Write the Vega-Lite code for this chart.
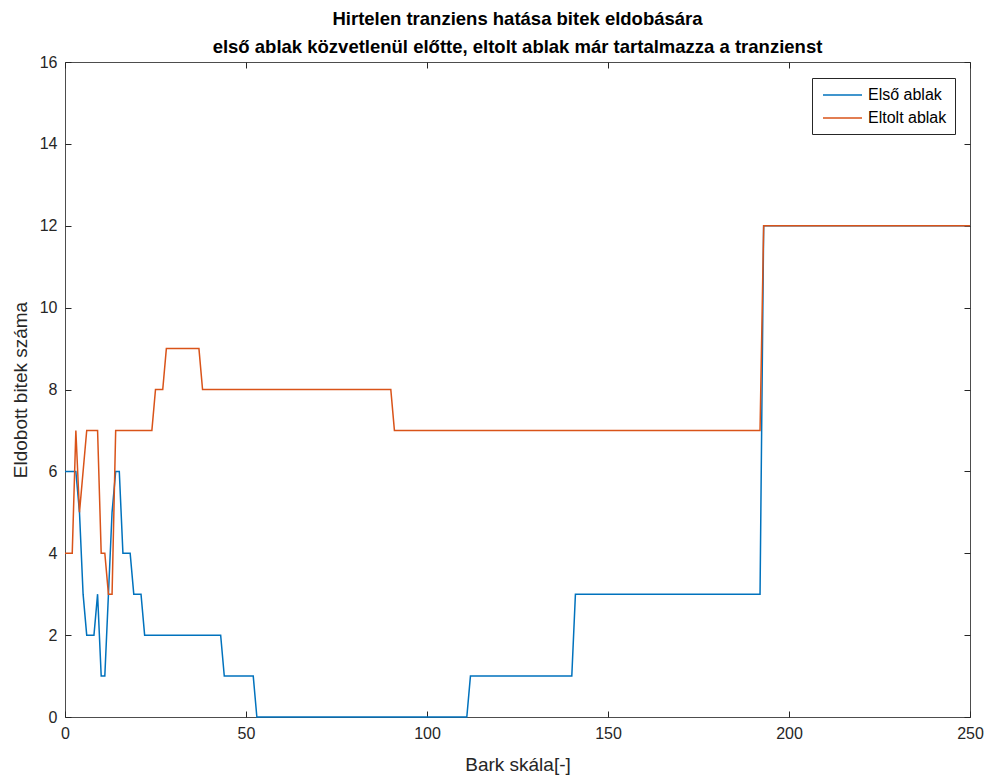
{
  "$schema": "https://vega.github.io/schema/vega-lite/v6.json",
  "width": 905,
  "height": 655,
  "autosize": {"type": "none"},
  "padding": {"left": 65, "top": 62, "right": 21, "bottom": 63},
  "background": "white",
  "title": {
    "text": ["Hirtelen tranziens hatása bitek eldobására", "első ablak közvetlenül előtte, eltolt ablak már tartalmazza a tranzienst"],
    "font": "Liberation Sans",
    "fontSize": 18.5,
    "fontWeight": "bold",
    "color": "#000000",
    "lineHeight": 28,
    "offset": -2,
    "anchor": "middle"
  },
  "config": {
    "view": {"stroke": "#4d4d4d", "strokeWidth": 1},
    "axis": {
      "grid": false,
      "domainColor": "#4d4d4d",
      "tickColor": "#262626",
      "labelColor": "#262626",
      "titleColor": "#262626",
      "labelFont": "Liberation Sans",
      "titleFont": "Liberation Sans",
      "labelFontSize": 16,
      "titleFontSize": 19,
      "titleFontWeight": "normal",
      "labelFlush": false
    }
  },
  "data": {
    "values": [
      {"x": 0, "v": 6, "s": "Első ablak"},
      {"x": 3, "v": 6, "s": "Első ablak"},
      {"x": 4, "v": 5, "s": "Első ablak"},
      {"x": 5, "v": 3, "s": "Első ablak"},
      {"x": 6, "v": 2, "s": "Első ablak"},
      {"x": 8, "v": 2, "s": "Első ablak"},
      {"x": 9, "v": 3, "s": "Első ablak"},
      {"x": 10, "v": 1, "s": "Első ablak"},
      {"x": 11, "v": 1, "s": "Első ablak"},
      {"x": 12, "v": 3, "s": "Első ablak"},
      {"x": 13, "v": 5, "s": "Első ablak"},
      {"x": 14, "v": 6, "s": "Első ablak"},
      {"x": 15, "v": 6, "s": "Első ablak"},
      {"x": 16, "v": 4, "s": "Első ablak"},
      {"x": 18, "v": 4, "s": "Első ablak"},
      {"x": 19, "v": 3, "s": "Első ablak"},
      {"x": 21, "v": 3, "s": "Első ablak"},
      {"x": 22, "v": 2, "s": "Első ablak"},
      {"x": 43, "v": 2, "s": "Első ablak"},
      {"x": 44, "v": 1, "s": "Első ablak"},
      {"x": 52, "v": 1, "s": "Első ablak"},
      {"x": 53, "v": 0, "s": "Első ablak"},
      {"x": 111, "v": 0, "s": "Első ablak"},
      {"x": 112, "v": 1, "s": "Első ablak"},
      {"x": 140, "v": 1, "s": "Első ablak"},
      {"x": 141, "v": 3, "s": "Első ablak"},
      {"x": 192, "v": 3, "s": "Első ablak"},
      {"x": 193, "v": 12, "s": "Első ablak"},
      {"x": 250, "v": 12, "s": "Első ablak"},
      {"x": 0, "v": 4, "s": "Eltolt ablak"},
      {"x": 2, "v": 4, "s": "Eltolt ablak"},
      {"x": 3, "v": 7, "s": "Eltolt ablak"},
      {"x": 4, "v": 5, "s": "Eltolt ablak"},
      {"x": 6, "v": 7, "s": "Eltolt ablak"},
      {"x": 9, "v": 7, "s": "Eltolt ablak"},
      {"x": 10, "v": 4, "s": "Eltolt ablak"},
      {"x": 11, "v": 4, "s": "Eltolt ablak"},
      {"x": 12, "v": 3, "s": "Eltolt ablak"},
      {"x": 13, "v": 3, "s": "Eltolt ablak"},
      {"x": 14, "v": 7, "s": "Eltolt ablak"},
      {"x": 24, "v": 7, "s": "Eltolt ablak"},
      {"x": 25, "v": 8, "s": "Eltolt ablak"},
      {"x": 27, "v": 8, "s": "Eltolt ablak"},
      {"x": 28, "v": 9, "s": "Eltolt ablak"},
      {"x": 37, "v": 9, "s": "Eltolt ablak"},
      {"x": 38, "v": 8, "s": "Eltolt ablak"},
      {"x": 90, "v": 8, "s": "Eltolt ablak"},
      {"x": 91, "v": 7, "s": "Eltolt ablak"},
      {"x": 192, "v": 7, "s": "Eltolt ablak"},
      {"x": 193, "v": 12, "s": "Eltolt ablak"},
      {"x": 250, "v": 12, "s": "Eltolt ablak"}
    ]
  },
  "layer": [
    {
      "mark": {"type": "line", "strokeWidth": 1.5},
      "encoding": {
        "x": {
          "field": "x", "type": "quantitative",
          "scale": {"domain": [0, 250], "nice": false, "zero": false},
          "axis": {"orient": "bottom", "values": [0, 50, 100, 150, 200, 250], "tickSize": -6, "labelPadding": 14, "title": "Bark skála[-]", "titlePadding": 14, "domain": false}
        },
        "y": {
          "field": "v", "type": "quantitative",
          "scale": {"domain": [0, 16], "nice": false},
          "axis": {"orient": "left", "values": [0, 2, 4, 6, 8, 10, 12, 14, 16], "tickSize": -6, "labelPadding": 14, "title": "Eldobott bitek száma", "titlePadding": 9, "domain": false}
        },
        "color": {
          "field": "s", "type": "nominal",
          "scale": {"domain": ["Első ablak", "Eltolt ablak"], "range": ["#0072BD", "#D95319"]},
          "legend": {
            "title": null,
            "orient": "none",
            "legendX": 747,
            "legendY": 16,
            "direction": "vertical",
            "symbolType": "M-2.44,0H2.44",
            "symbolSize": 256,
            "symbolStrokeWidth": 1.5,
            "symbolOffset": 13.5,
            "labelOffset": 16.5,
            "labelFont": "Liberation Sans",
            "labelFontSize": 16,
            "labelColor": "#000000",
            "strokeColor": "#262626",
            "fillColor": "white",
            "padding": 8,
            "rowPadding": 6
          }
        }
      }
    },
    {
      "mark": {"type": "line", "opacity": 0},
      "encoding": {
        "x": {
          "field": "x", "type": "quantitative",
          "axis": {"orient": "top", "values": [0, 50, 100, 150, 200, 250], "tickSize": -6, "labels": false, "title": null, "domain": false}
        },
        "y": {
          "field": "v", "type": "quantitative",
          "axis": {"orient": "right", "values": [0, 2, 4, 6, 8, 10, 12, 14, 16], "tickSize": -6, "labels": false, "title": null, "domain": false}
        },
        "detail": {"field": "s", "type": "nominal"}
      }
    }
  ],
  "resolve": {"axis": {"x": "independent", "y": "independent"}}
}
